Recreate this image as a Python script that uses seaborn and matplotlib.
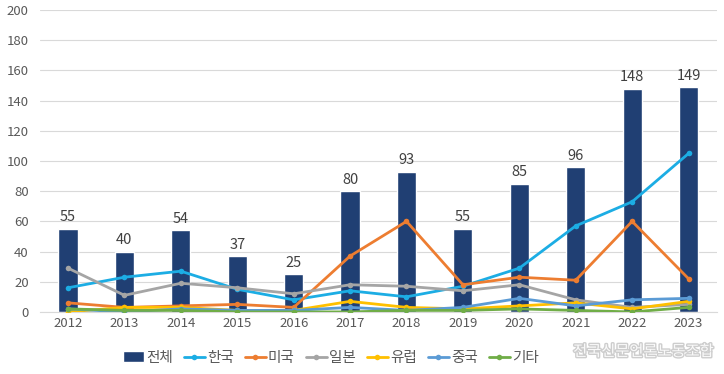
import matplotlib
matplotlib.use("Agg")
import matplotlib.pyplot as plt
import matplotlib.patheffects as pe
import numpy as np
import pandas as pd
import seaborn as sns

years = ["2012", "2013", "2014", "2015", "2016", "2017",
         "2018", "2019", "2020", "2021", "2022", "2023"]
total = [55, 40, 54, 37, 25, 80, 93, 55, 85, 96, 148, 149]
korea = [16, 23, 27, 15, 8, 14, 10, 17, 29, 57, 73, 105]
usa = [6, 3, 4, 5, 3, 37, 60, 18, 23, 21, 60, 22]
japan = [29, 11, 19, 16, 12, 18, 17, 14, 18, 8, 3, 5]
europe = [0, 3, 3, 1, 1, 7, 3, 2, 4, 6, 2, 7]
china = [2, 0, 2, 1, 1, 3, 1, 3, 9, 4, 8, 9]
other = [2, 1, 1, 0, 0, 0, 1, 1, 2, 1, 0, 3]

series_names = ["한국", "미국", "일본", "유럽", "중국", "기타"]
series_values = [korea, usa, japan, europe, china, other]
series_colors = ["#1CADE4", "#ED7D31", "#A5A5A5", "#FFC000", "#5B9BD5", "#70AD47"]
bar_color = "#203F73"

sns.set_style("white")
plt.rcParams["font.family"] = ["Noto Sans CJK KR", "DejaVu Sans"]

fig = plt.figure(figsize=(7.24, 3.74), dpi=100)
ax = fig.add_axes([0.055, 0.166, 0.935, 0.807])

bar_df = pd.DataFrame({"year": years, "count": total})
sns.barplot(data=bar_df, x="year", y="count", color=bar_color, width=0.34,
            saturation=1, ax=ax, label="전체", zorder=2)

for i, v in enumerate(total):
    ax.text(i, v + 3, str(v), ha="center", va="bottom", fontsize=10.5, color="#404040")

rows = []
for name, vals in zip(series_names, series_values):
    for i, v in enumerate(vals):
        rows.append({"pos": i, "value": v, "series": name})
line_df = pd.DataFrame(rows)
sns.lineplot(data=line_df, x="pos", y="value", hue="series", hue_order=series_names,
             palette=dict(zip(series_names, series_colors)), marker="o",
             markersize=4, markeredgewidth=0, linewidth=2, ax=ax, zorder=3)

ax.set_xlim(-0.5, len(years) - 0.5)
ax.set_ylim(0, 200)
ax.set_yticks(range(0, 201, 20))
ax.yaxis.grid(True, color="#D9D9D9", linewidth=0.8, zorder=0)
ax.set_axisbelow(True)
for s in ["top", "right", "left"]:
    ax.spines[s].set_visible(False)
ax.spines["bottom"].set_color("#D9D9D9")
ax.tick_params(axis="both", length=0, labelsize=9.5, labelcolor="#595959")
ax.tick_params(axis="y", pad=8)
ax.set_xlabel("")
ax.set_ylabel("")

# 전체 (bars) first in the legend, like the original
handles, labels = ax.get_legend_handles_labels()
order = [labels.index("전체")] + [labels.index(n) for n in series_names]
ax.legend([handles[i] for i in order], [labels[i] for i in order],
          loc="upper center", bbox_to_anchor=(0.43, -0.085),
          ncol=7, frameon=False, fontsize=10.5, handlelength=1.4, handletextpad=0.15,
          columnspacing=0.8, labelcolor="#595959")

fig.text(0.985, 0.06, "전국신문언론노동조합", ha="right", va="center", fontsize=11,
         color="white", alpha=0.9,
         path_effects=[pe.withStroke(linewidth=2, foreground="#C8C8C8")])

fig.savefig("out.png", dpi=100)
